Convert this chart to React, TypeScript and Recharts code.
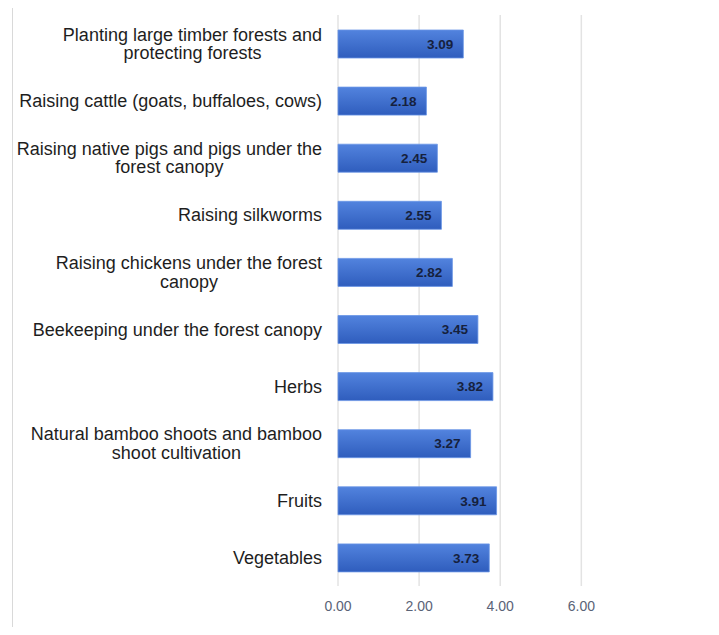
import { BarChart, Bar, XAxis, YAxis, CartesianGrid, LabelList } from "recharts";

const categories = [
  "Planting large timber forests and\nprotecting forests",
  "Raising cattle (goats, buffaloes, cows)",
  "Raising native pigs and pigs under the\nforest canopy",
  "Raising silkworms",
  "Raising chickens under the forest\ncanopy",
  "Beekeeping under the forest canopy",
  "Herbs",
  "Natural bamboo shoots and bamboo\nshoot cultivation",
  "Fruits",
  "Vegetables",
];
const scores = [3.09, 2.18, 2.45, 2.55, 2.82, 3.45, 3.82, 3.27, 3.91, 3.73];
const xTicks = [0, 2, 4, 6];

const data = categories.map((name, i) => ({ name, value: scores[i] }));

const LABEL_FONT = "18px 'Liberation Sans', Arial, sans-serif";
let ctx: CanvasRenderingContext2D | null = null;
function measure(text: string) {
  if (!ctx) ctx = document.createElement("canvas").getContext("2d");
  if (!ctx) return text.length * 9;
  ctx.font = LABEL_FONT;
  return ctx.measureText(text).width;
}

// two-line labels are centred on each other, the block sits right-aligned
function CategoryTick(props: any) {
  const { x, y, payload } = props;
  const lines: string[] = String(payload.value).split("\n");
  const right = x - 8;
  const w = Math.max(...lines.map(measure));
  const cx = right - w / 2;
  const lh = 18.5;
  const y0 = y - ((lines.length - 1) * lh) / 2;
  return (
    <text textAnchor="middle" fill="#1e1e1e" style={{ font: LABEL_FONT }}>
      {lines.map((l, i) => (
        <tspan key={i} x={cx} y={y0 + i * lh} dy="0.36em">
          {l}
        </tspan>
      ))}
    </text>
  );
}

export default function App() {
  return (
    <div style={{ position: "relative", width: 719, height: 635, margin: -8, background: "#fff" }}>
      <div
        style={{
          position: "absolute",
          left: 12,
          top: -2,
          width: 706,
          height: 637,
          borderLeft: "1px solid #d9d9d9",
          borderRight: "1px solid #d9d9d9",
          borderBottom: "1px solid #d9d9d9",
          boxSizing: "border-box",
        }}
      />
      <BarChart
        width={719}
        height={635}
        data={data}
        layout="vertical"
        margin={{ top: 15, right: 16, bottom: 19, left: 0 }}
        style={{ position: "absolute", left: 0, top: 0 }}
      >
        <defs>
          <linearGradient id="barFill" x1="0" y1="0" x2="0" y2="1">
            <stop offset="0%" stopColor="#5283de" />
            <stop offset="100%" stopColor="#2f5dbd" />
          </linearGradient>
        </defs>
        <CartesianGrid horizontal={false} syncWithTicks stroke="#e3e3e3" strokeWidth={1.5} />
        <XAxis
          type="number"
          domain={[0, 9]}
          ticks={xTicks}
          tickFormatter={(v) => Number(v).toFixed(2)}
          axisLine={false}
          tickLine={false}
          tickMargin={9}
          height={30}
          tick={{ fill: "#5a6377", fontSize: 14, fontFamily: "'Liberation Sans', Arial, sans-serif" }}
        />
        <YAxis
          type="category"
          dataKey="name"
          width={338}
          axisLine={false}
          tickLine={false}
          interval={0}
          tick={<CategoryTick />}
        />
        <Bar dataKey="value" fill="url(#barFill)" stroke="#6a95e6" strokeWidth={0.8} barSize={28} isAnimationActive={false}>
          <LabelList
            dataKey="value"
            position="insideRight"
            offset={10}
            formatter={(v: any) => Number(v).toFixed(2)}
            style={{ fill: "#16213d", fontSize: 13.5, fontWeight: 700, fontFamily: "'Liberation Sans', Arial, sans-serif" }}
          />
        </Bar>
      </BarChart>
    </div>
  );
}
